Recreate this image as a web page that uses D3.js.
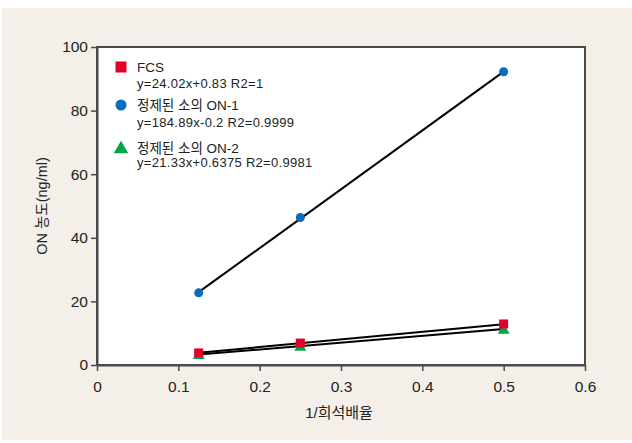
<!DOCTYPE html>
<html>
<head>
<meta charset="utf-8">
<script src="https://cdn.jsdelivr.net/npm/d3@7"></script>
<style>
  body { margin: 0; background: #fff; }
  text { font-family: "Liberation Sans", Arial, "Noto Sans CJK KR", sans-serif; fill: #222; }
</style>
</head>
<body>
<svg id="chart" width="632" height="443"></svg>
<script>
// data
var dilution = [0.125, 0.25, 0.5];
var fcs = [3.8, 6.9, 12.9];
var on1 = [22.7, 46.4, 92.2];
var on2 = [3.3, 5.9, 11.2];
var xTicks = [0, 0.1, 0.2, 0.3, 0.4, 0.5, 0.6];
var yTicks = [0, 20, 40, 60, 80, 100];

// trend lines (slope, intercept) from the legend equations
var fits = [[24.02, 0.83], [184.89, -0.2], [21.33, 0.6375]];

var series = [
	{name: 'FCS', eq: 'y=24.02x+0.83 R2=1', values: fcs, shape: 'square', color: '#e2002a'},
	{name: '정제된 소의 ON-1', eq: 'y=184.89x-0.2 R2=0.9999', values: on1, shape: 'circle', color: '#0a6cb8'},
	{name: '정제된 소의 ON-2', eq: 'y=21.33x+0.6375 R2=0.9981', values: on2, shape: 'triangle', color: '#00a347'}
];

var svg = d3.select('#chart');
svg.append('rect').attr('x', 2).attr('y', 8).attr('width', 630).attr('height', 432).attr('fill', '#f4f0e9');

var margin = {left: 97, top: 47, right: 585, bottom: 365};
var x = d3.scaleLinear().domain([0, 0.6]).range([margin.left, margin.right]);
var y = d3.scaleLinear().domain([0, 100]).range([margin.bottom, margin.top]);

svg.append('rect')
	.attr('x', margin.left).attr('y', margin.top)
	.attr('width', margin.right - margin.left).attr('height', margin.bottom - margin.top)
	.attr('fill', '#fff').attr('stroke', '#4a4a4a').attr('stroke-width', 2);

var xAxis = svg.append('g').attr('transform', 'translate(0,' + margin.bottom + ')')
	.call(d3.axisBottom(x).tickValues(xTicks).tickSize(6).tickSizeOuter(0).tickFormat(d3.format('')));
var yAxis = svg.append('g').attr('transform', 'translate(' + margin.left + ',0)')
	.call(d3.axisLeft(y).tickValues(yTicks).tickSize(6).tickSizeOuter(0));
[xAxis, yAxis].forEach(function(a){
	a.select('.domain').attr('stroke', '#4a4a4a').attr('stroke-width', 2);
	a.selectAll('.tick line').attr('stroke', '#4a4a4a').attr('stroke-width', 1.5);
	a.selectAll('.tick text').attr('font-size', 15.5).attr('fill', '#222')
		.attr('font-family', '"Liberation Sans", Arial, sans-serif');
});
xAxis.selectAll('.tick text').attr('dy', '1.15em');

svg.append('text').attr('x', 339).attr('y', 418).attr('text-anchor', 'middle')
	.attr('font-size', 15).text('1/희석배율');
svg.append('text').attr('transform', 'translate(47,206) rotate(-90)').attr('text-anchor', 'middle')
	.attr('font-size', 14.5).text('ON 농도(ng/ml)');

// trend lines
series.forEach(function(s, i){
	var f = fits[i];
	svg.append('line')
		.attr('x1', x(dilution[0])).attr('y1', y(f[0] * dilution[0] + f[1]))
		.attr('x2', x(dilution[2])).attr('y2', y(f[0] * dilution[2] + f[1]))
		.attr('stroke', '#000').attr('stroke-width', 2);
});

function marker(g, shape, color, cx, cy, size){
	var h = size / 2;
	if (shape == 'square'){
		g.append('rect').attr('x', cx - h).attr('y', cy - h).attr('width', size).attr('height', size).attr('fill', color);
	}
	else if (shape == 'circle'){
		g.append('circle').attr('cx', cx).attr('cy', cy).attr('r', h).attr('fill', color);
	}
	else {
		g.append('path').attr('d', d3.symbol(d3.symbolTriangle, size * size * 0.75)()).attr('transform', 'translate(' + cx + ',' + (cy + 1) + ')').attr('fill', color);
	}
}

// draw ON-2 first so FCS squares sit on top
[2, 1, 0].forEach(function(i){
	var s = series[i];
	var g = svg.append('g');
	s.values.forEach(function(v, j){
		marker(g, s.shape, s.color, x(dilution[j]), y(v), 9);
	});
});

// legend
var legendY = [67, 105, 148];
var eqGap = [21, 22, 19];
series.forEach(function(s, i){
	var g = svg.append('g');
	marker(g, s.shape, s.color, 121, legendY[i], 11);
	g.append('text').attr('x', 137).attr('y', legendY[i] + 5).attr('font-size', 13.5).text(s.name);
	g.append('text').attr('x', 137).attr('y', legendY[i] + eqGap[i]).attr('font-size', 13).attr('letter-spacing', 0.3).text(s.eq);
});
</script>
</body>
</html>
